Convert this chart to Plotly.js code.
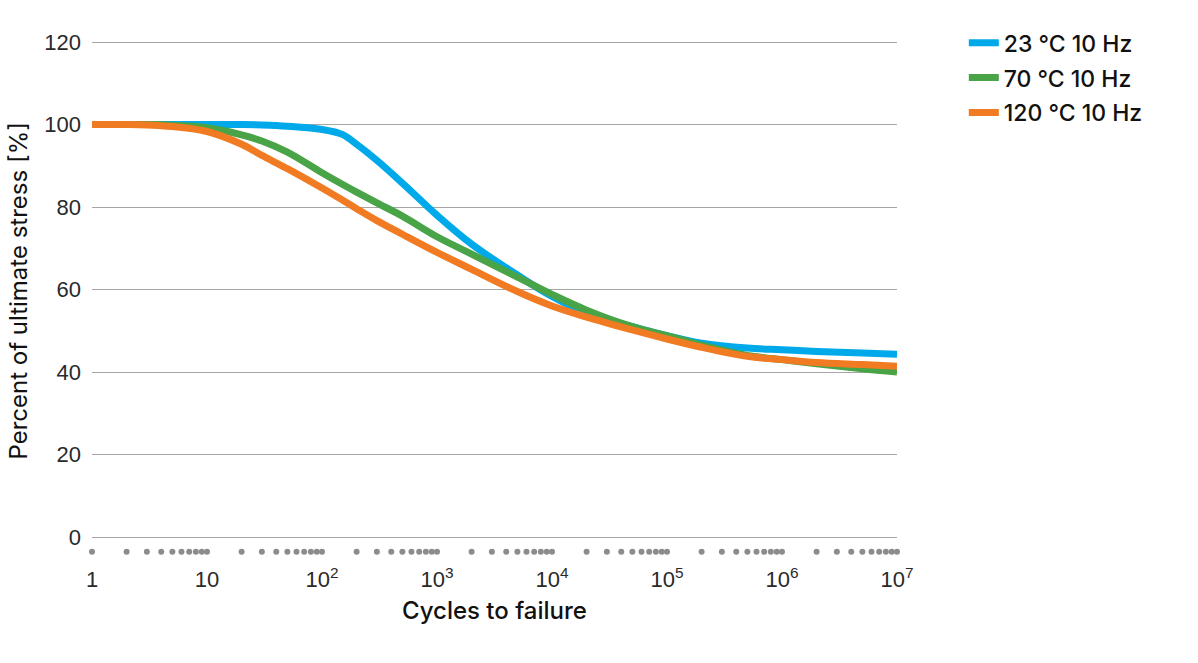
<!DOCTYPE html>
<html>
<head>
<meta charset="utf-8">
<script src="https://cdn.plot.ly/plotly-3.0.1.min.js"></script>
<style>html,body{margin:0;padding:0;background:#fff;}#chart{width:1198px;height:663px;}</style>
</head>
<body>
<div id="chart"></div>
<script>
// Cycles to failure (x) and percent of ultimate stress (y)
const cycles = [1, 2, 3, 5, 10, 20, 30, 50, 100, 150, 200, 300, 500, 1000, 2000, 5000,
  1e4, 2e4, 5e4, 1e5, 2e5, 5e5, 1e6, 2e6, 5e6, 1e7];
const stress23 = [100, 100, 100, 100, 100, 100, 99.9, 99.6, 98.8, 97.6, 95.2, 91.3, 85.8, 78, 71, 63.5,
  58.3, 54.3, 51, 48.8, 47, 45.8, 45.4, 45, 44.6, 44.3];
const stress70 = [100, 100, 100, 99.8, 99.2, 97.5, 96, 93.3, 88.3, 85.5, 83.6, 81, 77.8, 72.8, 68.6, 63,
  58.8, 55, 51, 48.8, 46.5, 44, 43, 42, 40.8, 40];
const stress120 = [100, 100, 99.9, 99.5, 98.3, 95.2, 92.5, 89.3, 84.6, 81.7, 79.6, 76.7, 73.4, 69, 64.9, 59.5,
  56, 53.3, 50.2, 48, 46, 43.8, 43, 42.3, 41.8, 41.4];
const seriesNames = ['23 °C 10 Hz', '70 °C 10 Hz', '120 °C 10 Hz'];
const seriesColors = ['#00a9e9', '#48a447', '#f17b22'];

// axis ticks
const xTickVals = [1, 10, 100, 1000, 1e4, 1e5, 1e6, 1e7];
const xTickText = ['1', '10', '10<sup>2</sup>', '10<sup>3</sup>', '10<sup>4</sup>', '10<sup>5</sup>', '10<sup>6</sup>', '10<sup>7</sup>'];
const yTickVals = [0, 20, 40, 60, 80, 100, 120];
const yTitle = 'Percent of ultimate stress [%]';
const xTitle = 'Cycles to failure';
// minor tick dots below the axis: multipliers within each decade
const decades = [1, 10, 100, 1000, 1e4, 1e5, 1e6];
const multipliers = [1, 2, 3, 4, 5, 6, 7, 8, 9];
const dotX = [];
decades.forEach(d => multipliers.forEach(m => dotX.push(d * m)));
dotX.push(1e7);
const dotLevel = -3.6;

const tickFont = 'Liberation Sans, Arial, sans-serif';
const labelFont = 'Inter, Liberation Sans, sans-serif';
const traces = [stress23, stress70, stress120].map((ys, i) => ({
  x: cycles, y: ys, type: 'scatter', mode: 'lines', name: seriesNames[i],
  legendgroup: 'g' + i,
  line: {color: seriesColors[i], width: 7, shape: 'spline', smoothing: 1}
}));
traces.push({
  x: dotX, y: dotX.map(() => dotLevel), type: 'scatter', mode: 'markers',
  marker: {color: '#8c8c8c', size: 6}, showlegend: false, cliponaxis: false, hoverinfo: 'skip'
});

const layout = {
  width: 1198, height: 663,
  margin: {l: 92, r: 301, t: 40, b: 101},
  paper_bgcolor: '#fff', plot_bgcolor: '#fff',
  font: {family: labelFont, color: '#111'},
  showlegend: true,
  legend: {x: 1.083, y: 1.036, xanchor: 'left', yanchor: 'top',
    font: {family: labelFont, size: 23, color: '#111', weight: 500},
    traceorder: 'grouped', tracegroupgap: 2, bgcolor: 'rgba(0,0,0,0)'},
  xaxis: {type: 'log', range: [0, 7], tickmode: 'array', tickvals: xTickVals, ticktext: xTickText,
    showgrid: false, zeroline: false, showline: false, ticks: '', ticklabelstandoff: 2,
    tickfont: {family: tickFont, size: 22, color: '#2a2a2a'},
    title: {text: xTitle, font: {family: labelFont, size: 24, color: '#111', weight: 500}, standoff: 11}},
  yaxis: {range: [-6.06, 120.485], tickmode: 'array', tickvals: yTickVals, showgrid: true, gridcolor: '#a6a6a6',
    gridwidth: 1, zeroline: false, showline: false, ticks: '', ticklabelstandoff: 10,
    tickfont: {family: tickFont, size: 22, color: '#2a2a2a'}},
  annotations: [{
    text: yTitle, xref: 'paper', yref: 'paper', x: -0.0907, y: 0.52,
    xanchor: 'center', yanchor: 'middle', textangle: -90, showarrow: false,
    font: {family: labelFont, size: 24, color: '#111', weight: 400}
  }]
};

Plotly.newPlot('chart', traces, layout, {displayModeBar: false, staticPlot: true});
</script>
</body>
</html>
